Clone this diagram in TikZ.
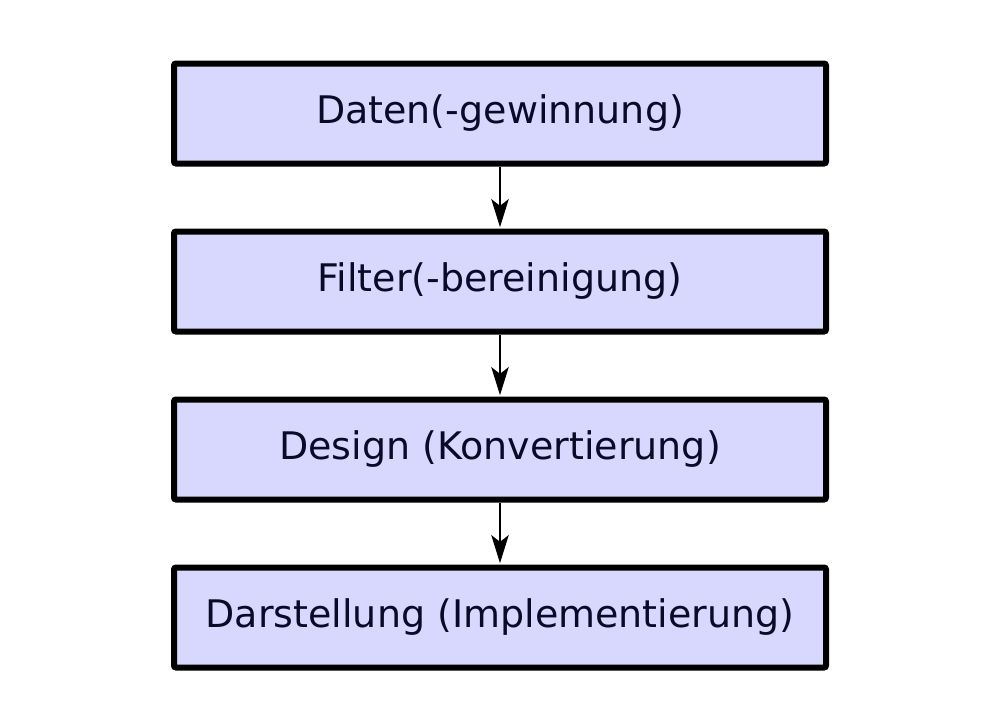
\documentclass[tikz,border=0pt]{standalone}
\usepackage{fontspec}
\setmainfont{DejaVu Sans}
\usetikzlibrary{arrows.meta}
\definecolor{boxfill}{RGB}{216,216,255}
\definecolor{txt}{RGB}{10,10,40}
\begin{document}
\begin{tikzpicture}[x=0.75pt,y=-0.75pt,
  stagebox/.style={draw=black,line width=4.5pt,fill=boxfill,minimum width=652*0.75pt,minimum height=100*0.75pt,inner sep=0pt,text=txt,font=\fontsize{28.5pt}{32pt}\selectfont,rounded corners=1.5pt},
  flow/.style={line width=2.1pt,-{Stealth[length=21pt,width=13pt,inset=5pt]},shorten >=1pt}]
\useasboundingbox (0,0) rectangle (1000,707);
\node[stagebox] (a) at (500,113.5) {Daten(-gewinnung)};
\node[stagebox] (b) at (500,281.5) {Filter(-bereinigung)};
\node[stagebox] (c) at (500,449.5) {Design (Konvertierung)};
\node[stagebox] (d) at (500,617.5) {Darstellung (Implementierung)};
\draw[flow] (a.south) -- (b.north);
\draw[flow] (b.south) -- (c.north);
\draw[flow] (c.south) -- (d.north);
\end{tikzpicture}
\end{document}
